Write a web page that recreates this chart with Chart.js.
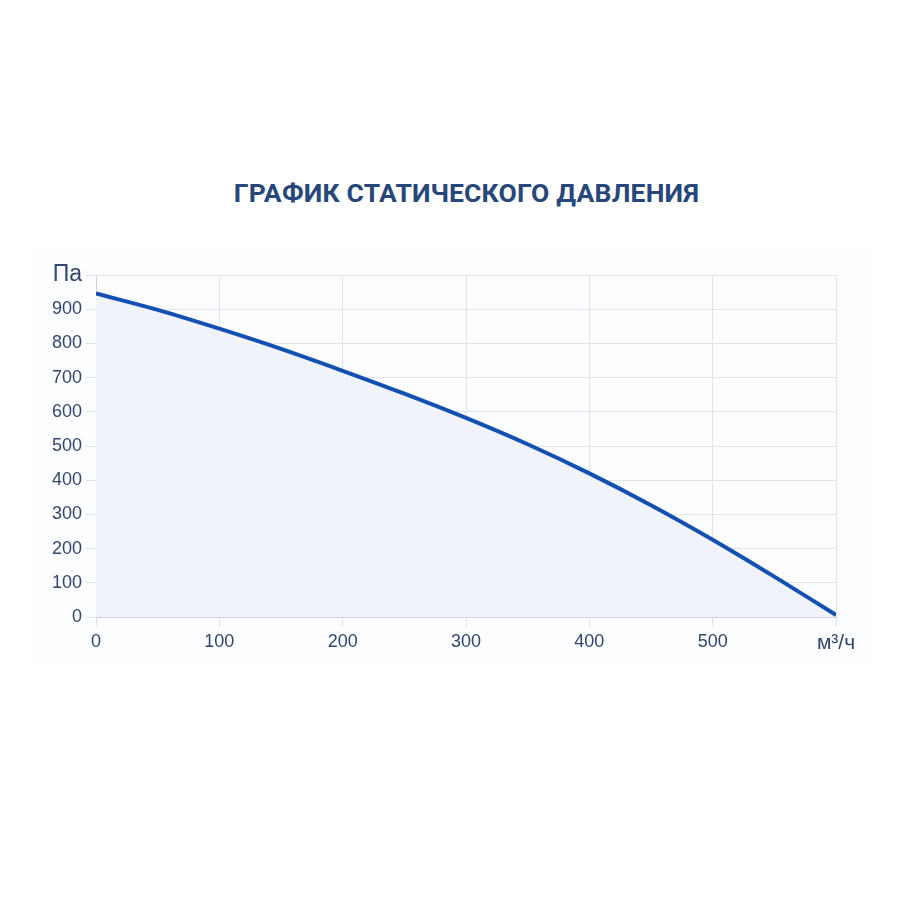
<!DOCTYPE html>
<html>
<head>
<meta charset="utf-8">
<script src="https://cdn.jsdelivr.net/npm/chart.js@4"></script>
<style>
  html, body { margin: 0; padding: 0; background: #ffffff; }
  body { width: 900px; height: 900px; position: relative; overflow: hidden; }
  #title {
    position: absolute; left: 0; width: 933px; top: 177px; text-align: center;
    font-family: Roboto, "Noto Sans", sans-serif; font-weight: 700; font-size: 26.5px;
    color: #27467a; letter-spacing: 0.2px;
  }
  #wrap { position: absolute; left: 30px; top: 250px; width: 840px; height: 415px; background: #fcfdfe; }
</style>
</head>
<body>
<div id="title">ГРАФИК СТАТИЧЕСКОГО ДАВЛЕНИЯ</div>
<div id="wrap"><canvas id="c"></canvas></div>
<script>
const flow = [0, 50, 100, 150, 200, 250, 300, 350, 400, 450, 500, 550, 600];
const pressure = [946, 898, 843, 784, 720, 653, 582, 505, 420, 327, 226, 118, 6];
const xUnit = 'м³/ч';
const yUnit = 'Па';

const textColor = '#33466b';
const gridColor = '#dfe3ea';

new Chart(document.getElementById('c'), {
  type: 'line',
  data: {
    datasets: [{
      data: flow.map((x, i) => ({ x: x, y: pressure[i] })),
      borderColor: '#1450b2',
      borderWidth: 4,
      backgroundColor: '#f0f4fa',
      fill: 'origin',
      pointRadius: 0,
      tension: 0.4,
      cubicInterpolationMode: 'monotone'
    }]
  },
  options: {
    responsive: true,
    maintainAspectRatio: false,
    animation: false,
    layout: { padding: { top: 25, right: 34, left: 0, bottom: 0 } },
    plugins: { legend: { display: false }, tooltip: { enabled: false } },
    scales: {
      x: {
        type: 'linear', min: 0, max: 600,
        ticks: {
          stepSize: 100, color: textColor, padding: 4, maxRotation: 0, autoSkip: false,
          font: (ctx) => ({ family: '"Liberation Sans", Arial, sans-serif', size: (ctx.tick && ctx.tick.value === 600) ? 21 : 18 }),
          callback: (v) => v === 600 ? xUnit : v
        },
        grid: { color: gridColor, tickLength: 10 },
        border: { color: '#cfd4dc' },
        afterFit: (s) => { s.height = 48; }
      },
      y: {
        min: 0, max: 1000,
        ticks: {
          stepSize: 100, color: textColor, padding: 4,
          font: (ctx) => ({ family: '"Liberation Sans", Arial, sans-serif', size: (ctx.tick && ctx.tick.value === 1000) ? 23 : 18 }),
          callback: (v) => v === 1000 ? yUnit : v
        },
        grid: { color: gridColor, tickLength: 10 },
        border: { color: '#cfd4dc' },
        afterFit: (s) => { s.width = 66; }
      }
    }
  }
});
</script>
</body>
</html>
